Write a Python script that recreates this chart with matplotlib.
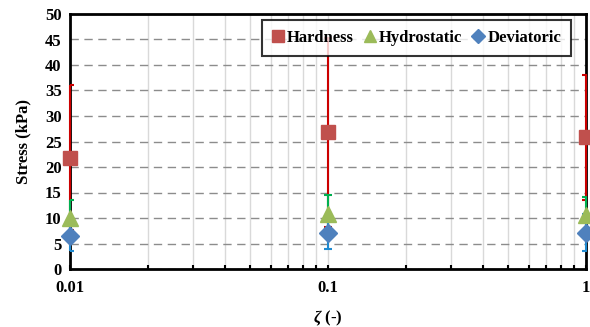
import matplotlib
matplotlib.use("Agg")
import matplotlib.pyplot as plt
from matplotlib.ticker import LogLocator, NullFormatter, FixedLocator

plt.rcParams["font.family"] = ["Liberation Serif", "DejaVu Serif"]
plt.rcParams["font.weight"] = "bold"
plt.rcParams["mathtext.fontset"] = "custom"
plt.rcParams["mathtext.it"] = "Liberation Serif:bold:italic"
plt.rcParams["mathtext.rm"] = "Liberation Serif:bold"

# data
zeta = [0.01, 0.1, 1]
hardness = [21.8, 26.8, 25.8]
hardness_sd = [14.2, 18.5, 12.2]
hydro = [10.0, 10.8, 10.5]
hydro_sd = [3.5, 3.8, 3.7]
devia = [6.5, 7.1, 7.1]
devia_sd = [3.0, 3.2, 3.6]

fig = plt.figure(figsize=(5.9, 3.27), dpi=100)
ax = fig.add_axes([70 / 590, 1 - 269 / 327, 516 / 590, 255 / 327])

ax.set_xscale("log")
ax.set_xlim(0.01, 1)
ax.set_ylim(0, 50)

# grid: light vertical lines on every decade step, dashed grey horizontals
ax.xaxis.set_minor_locator(LogLocator(base=10, subs=range(2, 10)))
ax.xaxis.set_minor_formatter(NullFormatter())
ax.grid(which="both", axis="x", color="#d9d9d9", linewidth=1, zorder=0)
ax.yaxis.set_major_locator(FixedLocator(range(0, 51, 5)))
ax.grid(which="major", axis="y", color="#8c8c8c", linestyle=(0, (6, 4)), linewidth=1, zorder=0)
ax.set_axisbelow(True)

err_kw = dict(fmt="none", capsize=3, elinewidth=1.5, capthick=1.5, zorder=3)
for mean, sd, col in [(hardness, hardness_sd, "#cc0000"),
                      (hydro, hydro_sd, "#00b050"),
                      (devia, devia_sd, "#1f8ad0")]:
    eb = ax.errorbar(zeta, mean, yerr=sd, ecolor=col, **err_kw)
    for coll in eb[2]:
        coll.set_clip_on(False)

ax.plot(zeta, hardness, "s", color="#c0504d", markersize=10, linestyle="none",
        label="Hardness", zorder=4, clip_on=False)
ax.plot(zeta, hydro, "^", color="#9bbb59", markersize=11, linestyle="none",
        label="Hydrostatic", zorder=4, clip_on=False)
ax.plot(zeta, devia, "D", color="#4f81bd", markersize=9, linestyle="none",
        label="Deviatoric", zorder=4, clip_on=False)

ax.set_xticks(zeta)
ax.set_xticklabels(["0.01", "0.1", "1"])
ax.tick_params(axis="x", which="major", direction="in", length=3, width=1.5, pad=8, labelsize=12)
ax.tick_params(axis="x", which="minor", direction="in", length=3, width=1.5)
ax.tick_params(axis="y", which="major", length=0, pad=6, labelsize=12)
for lab in ax.get_xticklabels() + ax.get_yticklabels():
    lab.set_fontweight("bold")

for s in ax.spines.values():
    s.set_linewidth(2)
    s.set_color("black")

ax.set_ylabel("Stress (kPa)", fontsize=12, fontweight="bold", labelpad=10)
ax.set_xlabel(r"$\zeta$ (-)", fontsize=12, fontweight="bold", labelpad=9)

leg = ax.legend(loc="upper right", bbox_to_anchor=(0.971, 0.976), ncol=3,
                frameon=True, fancybox=False, handlelength=0.7, borderaxespad=0,
                handletextpad=0.2, columnspacing=0.6, borderpad=0.6,
                markerscale=0.8, prop={"weight": "bold", "size": 12})
leg.get_frame().set_edgecolor("black")
leg.get_frame().set_linewidth(1.5)
leg.set_zorder(5)

fig.savefig("out.png", dpi=100)
